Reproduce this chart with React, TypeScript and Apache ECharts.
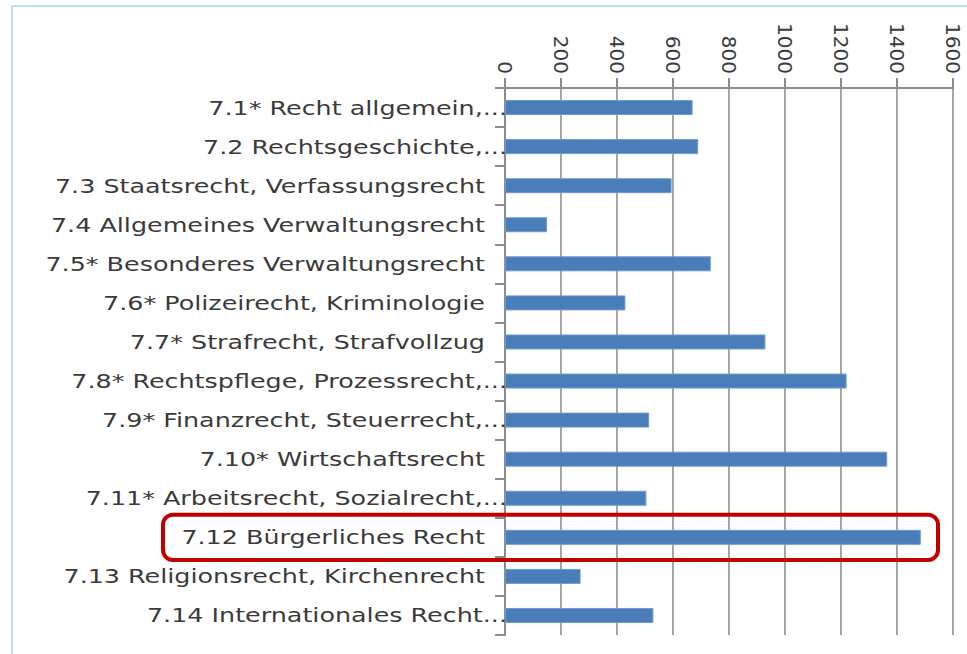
import React, { useEffect, useRef } from "react";
import * as echarts from "echarts";

const categories: string[] = [
  "7.1* Recht allgemein,...",
  "7.2 Rechtsgeschichte,...",
  "7.3 Staatsrecht, Verfassungsrecht",
  "7.4 Allgemeines Verwaltungsrecht",
  "7.5* Besonderes Verwaltungsrecht",
  "7.6* Polizeirecht, Kriminologie",
  "7.7* Strafrecht, Strafvollzug",
  "7.8* Rechtspflege, Prozessrecht,...",
  "7.9* Finanzrecht, Steuerrecht,...",
  "7.10* Wirtschaftsrecht",
  "7.11* Arbeitsrecht, Sozialrecht,...",
  "7.12 Bürgerliches Recht",
  "7.13 Religionsrecht, Kirchenrecht",
  "7.14 Internationales Recht...",
];

const values: number[] = [670, 690, 595, 150, 735, 430, 930, 1220, 515, 1365, 505, 1485, 270, 530];

const highlightedCategory = "7.12 Bürgerliches Recht";

const axisMin = 0;
const axisMax = 1600;
const axisInterval = 200;

export default function App() {
  const ref = useRef<HTMLDivElement>(null);

  useEffect(() => {
    document.body.style.margin = "0";
    if (!ref.current) return;
    const chart = echarts.init(ref.current, null, { renderer: "svg" });
    const font = "'DejaVu Sans', sans-serif";
    const textColor = "#3a3a3a";
    const frame = [
      {
        type: "line",
        shape: { x1: 12, y1: 6, x2: 967, y2: 6 },
        style: { stroke: "#b9dfe8", lineWidth: 2 },
      },
      {
        type: "line",
        shape: { x1: 12, y1: 6, x2: 12, y2: 654 },
        style: { stroke: "#b9dfe8", lineWidth: 2 },
      },
    ];
    chart.setOption({
      animation: false,
      backgroundColor: "#ffffff",
      grid: { left: 505, top: 88, right: 14, bottom: 19, containLabel: false },
      xAxis: {
        type: "value",
        position: "top",
        min: axisMin,
        max: axisMax,
        interval: axisInterval,
        axisLine: { show: true, lineStyle: { color: "#8c8c8c", width: 2 } },
        axisTick: { show: true, length: 10, lineStyle: { color: "#8c8c8c", width: 2 } },
        splitLine: { show: true, lineStyle: { color: "#a6a6a6", width: 2 } },
        axisLabel: {
          rotate: 90,
          margin: 14,
          fontSize: 20,
          fontFamily: font,
          color: textColor,
          formatter: (v: number) => String(v),
        },
      },
      yAxis: {
        type: "category",
        inverse: true,
        data: categories,
        axisLine: { show: true, lineStyle: { color: "#8c8c8c", width: 2 } },
        axisTick: { show: true, length: 10, lineStyle: { color: "#8c8c8c", width: 2 } },
        axisLabel: { show: false },
      },
      series: [
        {
          type: "bar",
          data: values,
          barWidth: 15,
          itemStyle: { color: "#4a7ebb", borderColor: "#6f9ad0", borderWidth: 1 },
        },
      ],
      graphic: frame,
    });

    const axisX = chart.convertToPixel({ xAxisIndex: 0 }, axisMin) as number;
    const labels = categories.map((c, i) => {
      const cy = chart.convertToPixel({ yAxisIndex: 0 }, i) as number;
      const truncated = c.endsWith("...");
      return {
        type: "text",
        x: truncated ? axisX + 2 : axisX - 20,
        y: cy,
        scaleX: 1.27,
        z: 50,
        style: {
          text: c,
          font: `20px ${font}`,
          fill: textColor,
          align: "right",
          verticalAlign: "middle",
        },
      };
    });

    const idx = categories.indexOf(highlightedCategory);
    const cy = chart.convertToPixel({ yAxisIndex: 0 }, idx) as number;
    const cyNext = chart.convertToPixel({ yAxisIndex: 0 }, idx + 1) as number;
    const band = Math.abs(cyNext - cy);
    const h = band * 1.16;
    chart.setOption({
      graphic: [
        ...frame,
        ...labels,
        {
          type: "rect",
          z: 100,
          shape: { x: 163, y: cy - h / 2, width: 938 - 163, height: h, r: 10 },
          style: { fill: "none", stroke: "#c00000", lineWidth: 4 },
        },
      ],
    });

    return () => chart.dispose();
  }, []);

  return <div ref={ref} style={{ width: 967, height: 654 }} />;
}
